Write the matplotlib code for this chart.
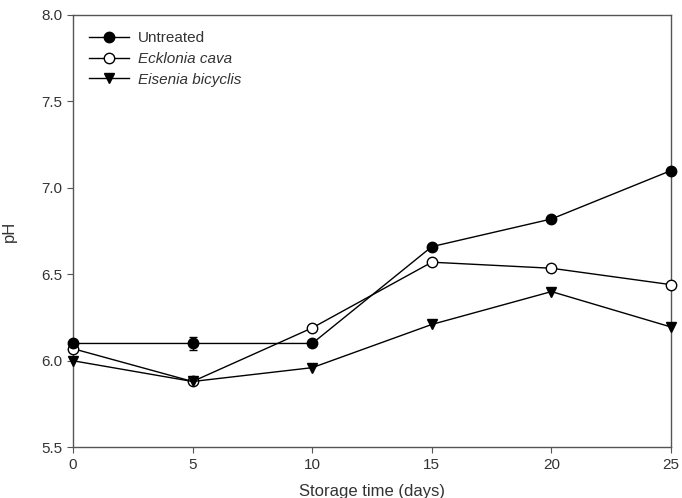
import numpy as np
import matplotlib.pyplot as plt
from matplotlib.lines import Line2D

plt.rcParams['font.family'] = ['Liberation Sans', 'DejaVu Sans']

# storage time and pH values
days = [0, 5, 10, 15, 20, 25]
untreated = [6.10, 6.10, 6.10, 6.66, 6.82, 7.10]
untreated_err = [0.0, 0.035, 0.0, 0.0, 0.0, 0.0]
ecklonia = [6.07, 5.88, 6.19, 6.57, 6.535, 6.44]
eisenia = [6.00, 5.88, 5.96, 6.21, 6.40, 6.195]
labels = ['Untreated', 'Ecklonia cava', 'Eisenia bicyclis']

grey = '#555555'
txt = '#333333'

fig = plt.figure(figsize=(6.82, 4.98), dpi=100)
ax = fig.add_axes([0.107, 0.102, 0.877, 0.868])

ax.errorbar(days, untreated, yerr=untreated_err, c='k', lw=1, marker='o', ms=7.5,
            capsize=3, elinewidth=1, clip_on=False, zorder=3)
l2, = ax.plot(days, ecklonia, c='k', lw=1, marker='o', ms=7.5, mfc='white', mec='k',
              clip_on=False, zorder=3)
l3, = ax.plot(days, eisenia, c='k', lw=1, marker='v', ms=7.5,
              clip_on=False, zorder=3)
l1 = Line2D([], [], c='k', lw=1, marker='o', ms=7.5)

ax.set_xlim(0, 25)
ax.set_ylim(5.5, 8.0)
ax.set_xticks([0, 5, 10, 15, 20, 25])
ax.set_yticks([5.5, 6.0, 6.5, 7.0, 7.5, 8.0])
ax.yaxis.set_major_formatter(plt.FormatStrFormatter('%.1f'))
ax.tick_params(direction='out', length=4, color=grey, labelcolor=txt, labelsize=11)

for sp in ax.spines.values():
    sp.set_color(grey)
    sp.set_linewidth(1)

ax.set_xlabel('Storage time (days)', fontsize=12, color=txt, labelpad=9)
ax.set_ylabel('pH', fontsize=12, color=txt, labelpad=18)

leg = ax.legend([l1, l2, l3], labels, loc='upper left', frameon=False, fontsize=11,
                handlelength=2.6, borderaxespad=0.65, labelspacing=0.45,
                handletextpad=0.6)
for t in leg.get_texts()[1:]:
    t.set_fontstyle('italic')
for t in leg.get_texts():
    t.set_color(txt)

fig.savefig('out.png', dpi=100)
